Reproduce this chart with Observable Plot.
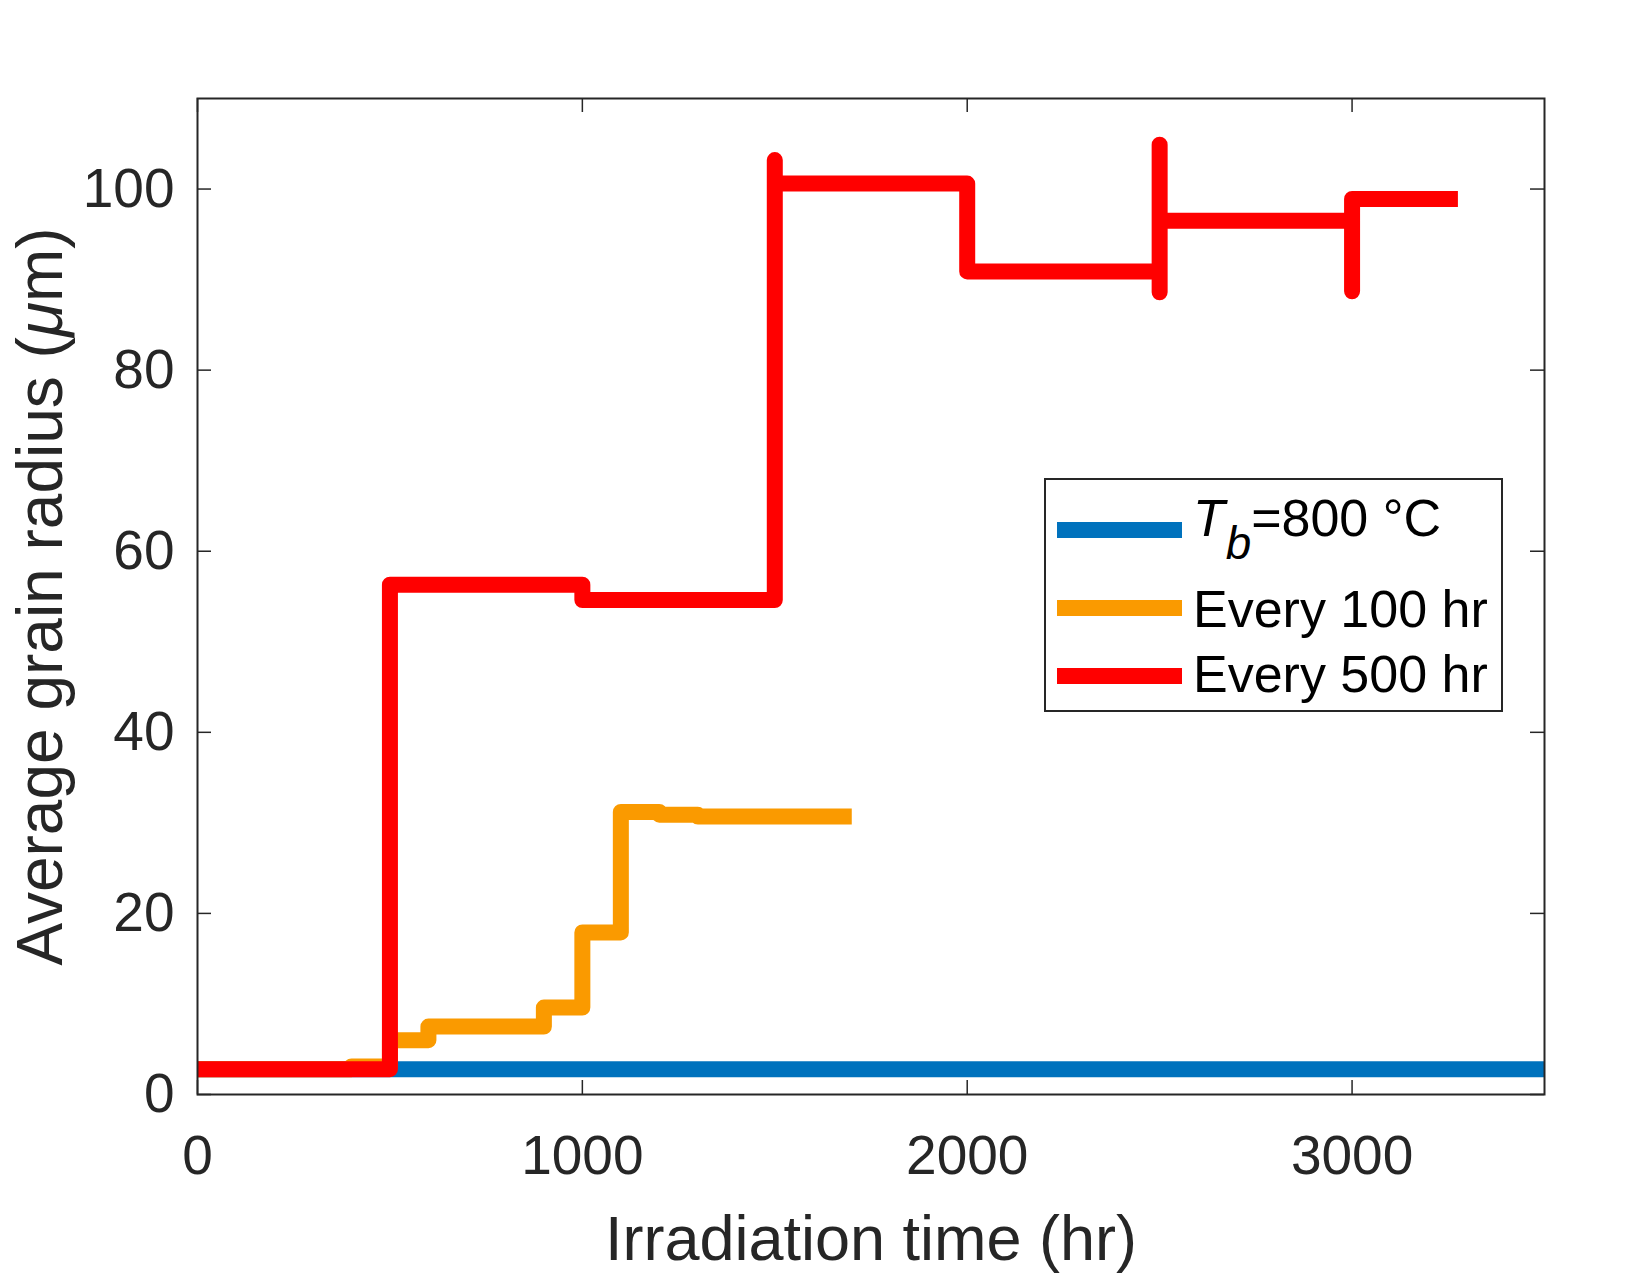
<!DOCTYPE html>
<html>
<head>
<meta charset="utf-8">
<script src="https://cdn.jsdelivr.net/npm/d3@7"></script>
<script src="https://cdn.jsdelivr.net/npm/@observablehq/plot@0.6"></script>
<style>
  html, body { margin: 0; padding: 0; background: #fff; }
  #wrap { position: relative; width: 1650px; height: 1275px; background: #fff; overflow: hidden;
          font-family: "Liberation Sans", Arial, Helvetica, sans-serif; color: #262626; }
  #legend { position: absolute; left: 1044px; top: 478px; width: 459px; height: 234px; box-sizing: border-box;
            border: 2px solid #262626; background: #fff; }
  .sw { position: absolute; left: 11px; width: 125px; height: 16px; }
  .lt { position: absolute; left: 147px; font-size: 52px; line-height: 52px; white-space: nowrap; color: #000; }
</style>
</head>
<body>
<div id="wrap">
  <div id="chart"></div>
  <div id="legend"></div>
</div>
<script>
// ---- data ----
const xTicks = [0, 1000, 2000, 3000];
const yTicks = [0, 20, 40, 60, 80, 100];

const seriesNames = ["T_b=800 °C", "Every 100 hr", "Every 500 hr"];
const seriesColors = ["#0072BD", "#FA9A00", "#FF0000"];

const blueX = [0, 3500];
const blueY = [2.8, 2.8];

const orangeX = [0, 400, 500, 600, 900, 1000, 1100, 1200, 1300, 1700];
const orangeY = [2.8, 3.1, 6.0, 7.5, 9.6, 17.9, 31.2, 30.9, 30.7, 30.7];

const redX = [0, 500, 1000, 1500, 1500, 2000, 2500, 2500, 2500, 3000, 3000, 3275];
const redY = [2.8, 56.3, 54.6, 103.2, 100.6, 90.9, 88.6, 104.9, 96.5, 88.7, 98.9, 98.9];

const xLabel = "Irradiation time (hr)";
const yLabel = "Average grain radius (μm)";

// ---- build tables ----
const toRows = (xs, ys) => xs.map((x, i) => ({x, y: ys[i]}));
const blue = toRows(blueX, blueY);
const orange = toRows(orangeX, orangeY);
const red = toRows(redX, redY);

const W = 1650, H = 1275;
const mL = 197, mR = 106, mT = 98, mB = 181;
const innerW = W - mL - mR, innerH = H - mT - mB;
const tickLen = 14;
const axisColor = "#262626";
const font = "'Liberation Sans', Arial, Helvetica, sans-serif";

const lineOpts = (c) => ({x: "x", y: "y", stroke: c, strokeWidth: 16, curve: "step-after",
  strokeLinecap: "butt", strokeLinejoin: "round", clip: true});

const chart = Plot.plot({
  width: W, height: H,
  marginLeft: mL, marginRight: mR, marginTop: mT, marginBottom: mB,
  style: {fontFamily: font, color: axisColor, background: "#fff", overflow: "visible"},
  x: {domain: [0, 3500]},
  y: {domain: [0, 110]},
  marks: [
    Plot.axisX(xTicks, {anchor: "bottom", tickSize: 0, tickPadding: 40, fontSize: 55, fill: axisColor,
      label: null, tickFormat: d => String(d)}),
    Plot.axisY(yTicks, {anchor: "left", tickSize: 0, tickPadding: 23, fontSize: 55, fill: axisColor,
      label: null, tickFormat: d => String(d)}),
    Plot.line(blue, lineOpts(seriesColors[0])),
    Plot.line(orange, lineOpts(seriesColors[1])),
    Plot.line(red, lineOpts(seriesColors[2])),
    // inside tick marks (left/right/bottom/top)
    Plot.tickY(yTicks, {y: d => d, stroke: axisColor, strokeWidth: 1.5, insetRight: innerW - tickLen}),
    Plot.tickY(yTicks, {y: d => d, stroke: axisColor, strokeWidth: 1.5, insetLeft: innerW - tickLen}),
    Plot.tickX(xTicks, {x: d => d, stroke: axisColor, strokeWidth: 1.5, insetTop: innerH - tickLen}),
    Plot.tickX(xTicks, {x: d => d, stroke: axisColor, strokeWidth: 1.5, insetBottom: innerH - tickLen}),
    Plot.frame({stroke: axisColor, strokeWidth: 2}),
    Plot.text([xLabel], {text: d => d, frameAnchor: "bottom", dy: 145, lineAnchor: "middle",
      textAnchor: "middle", fontSize: 63, fill: axisColor}),
    Plot.text([yLabel], {text: d => d, frameAnchor: "left", dx: -156, rotate: -90, lineAnchor: "middle",
      textAnchor: "middle", fontSize: 64, fill: axisColor})
  ]
});
document.getElementById("chart").appendChild(chart);

// italic mu in the y label
d3.select(chart).selectAll("text").filter(function () { return this.textContent === yLabel; })
  .each(function () {
    const t = d3.select(this);
    t.text(null);
    t.attr("text-anchor", "middle");
    t.append("tspan").text("Average grain radius (");
    t.append("tspan").attr("font-style", "italic").text("μ");
    t.append("tspan").text("m)");
  });

// ---- legend ----
const legend = document.getElementById("legend");
const swTops = [42, 120, 188];
const txtTops = [12, 103, 168];
seriesNames.forEach((name, i) => {
  const sw = document.createElement("div");
  sw.className = "sw";
  sw.style.top = swTops[i] + "px";
  sw.style.background = seriesColors[i];
  legend.appendChild(sw);
  const tx = document.createElement("div");
  tx.className = "lt";
  tx.style.top = txtTops[i] + "px";
  if (name.startsWith("T_b")) {
    tx.innerHTML = '<i>T</i><i style="font-size:0.88em;position:relative;top:0.5em;margin-left:0.02em">b</i>' + name.slice(3);
  } else {
    tx.textContent = name;
  }
  legend.appendChild(tx);
});
</script>
</body>
</html>
